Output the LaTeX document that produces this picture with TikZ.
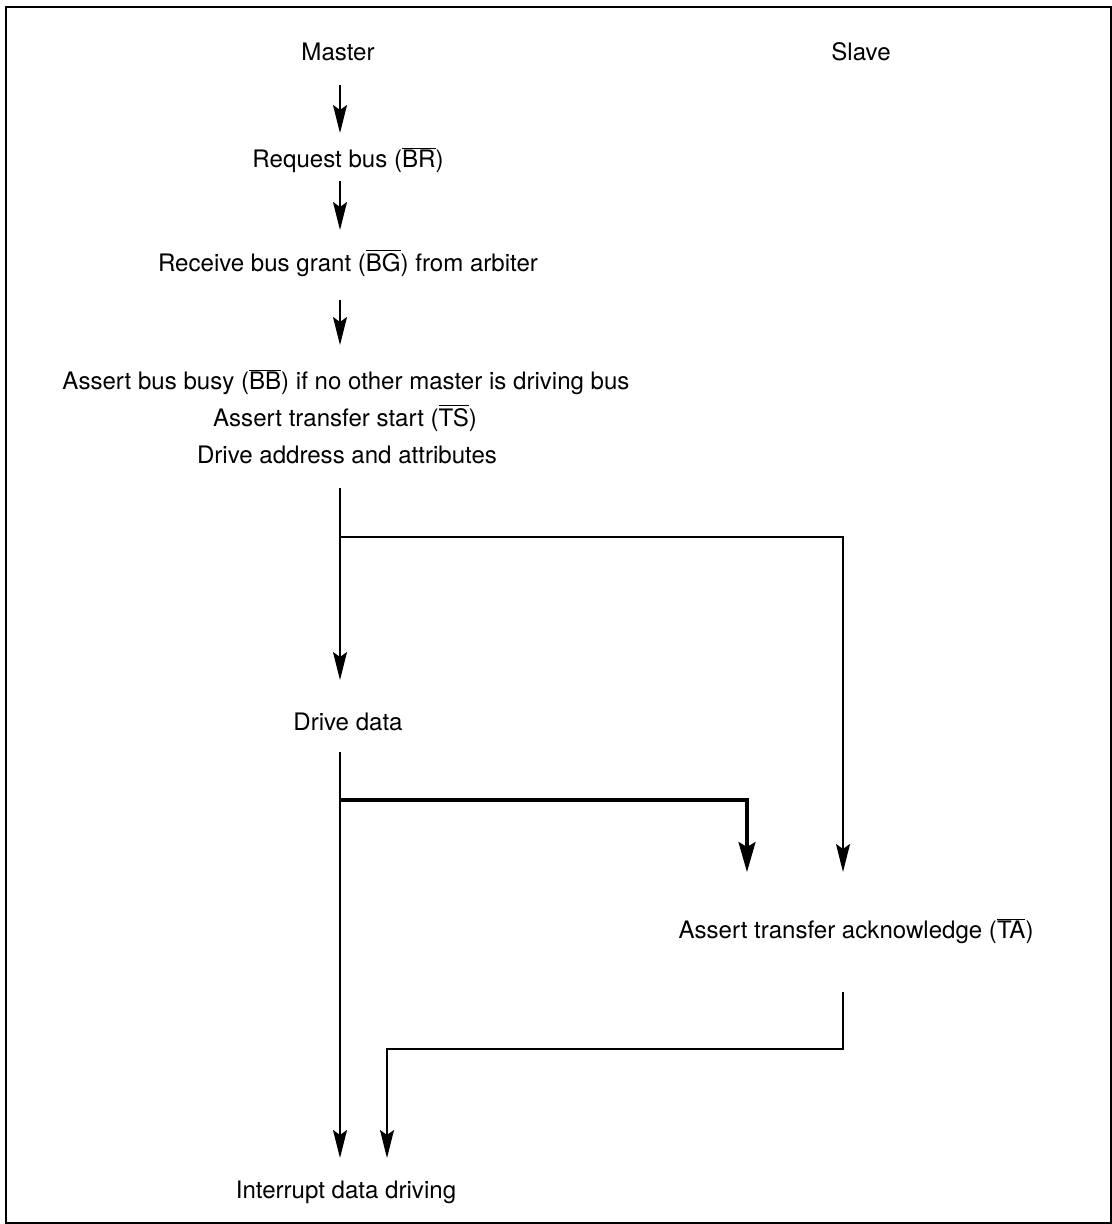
\documentclass[tikz,border=0pt]{standalone}
\usepackage{fontspec}
\setmainfont{TeX Gyre Heros}
\usetikzlibrary{arrows.meta}
\newcommand{\ovl}[1]{$\overline{\mbox{#1}}$}
\begin{document}
\begin{tikzpicture}[x=0.02cm, y=-0.02cm, >={Stealth[length=0.56cm,width=0.28cm,inset=0.1cm]},
    font=\fontsize{13.7}{16}\selectfont, line width=1.1pt]
  \tikzset{lbl/.style={inner sep=0pt, anchor=center},
           flow/.style={->},
           thickflow/.style={-{Stealth[length=0.6cm,width=0.34cm,inset=0.1cm]}, line width=1.8pt}}
  \useasboundingbox (0,0) rectangle (1112,1224);
  \draw (6,7) rectangle (1111,1223);
  % column titles
  \node[lbl] (master) at (338,52) {Master};
  \node[lbl] (slave) at (861,52) {Slave};
  % master steps
  \node[lbl] (req) at (348,160) {Request bus (\ovl{BR})};
  \node[lbl] (grant) at (348,263) {Receive bus grant (\ovl{BG}) from arbiter};
  \node[lbl] (busy) at (346,382) {Assert bus busy (\ovl{BB}) if no other master is driving bus};
  \node[lbl] (tstart) at (345,418) {Assert transfer start (\ovl{TS})};
  \node[lbl] (addr) at (347,455) {Drive address and attributes};
  \node[lbl] (data) at (348,722) {Drive data};
  \node[lbl] (intr) at (346,1192) {Interrupt data driving};
  % slave step
  \node[lbl] (ack) at (856,931) {Assert transfer acknowledge (\ovl{TA})};
  % line ends
  \coordinate (m0) at (340,85);   \coordinate (m1) at (340,133);
  \coordinate (r0) at (340,181);  \coordinate (r1) at (340,230);
  \coordinate (g0) at (340,300);  \coordinate (g1) at (340,345);
  \coordinate (a0) at (340,488);  \coordinate (aj) at (340,537);
  \coordinate (a1) at (340,680);  \coordinate (s1) at (843,872);
  \coordinate (d0) at (340,752);  \coordinate (dj) at (340,800);
  \coordinate (d1) at (340,1158); \coordinate (t1) at (747,872);
  \coordinate (k0) at (843,992);  \coordinate (kj) at (843,1049);
  \coordinate (k1) at (387,1158);
  \draw[flow] (m0) -- (m1);
  \draw[flow] (r0) -- (r1);
  \draw[flow] (g0) -- (g1);
  \draw[flow] (a0) -- (a1);
  \draw[flow] (aj) -| (s1);
  \draw[flow] (d0) -- (d1);
  \draw[thickflow] (dj) -| (t1);
  \draw[flow] (k0) -- (kj) -| (k1);
\end{tikzpicture}
\end{document}
